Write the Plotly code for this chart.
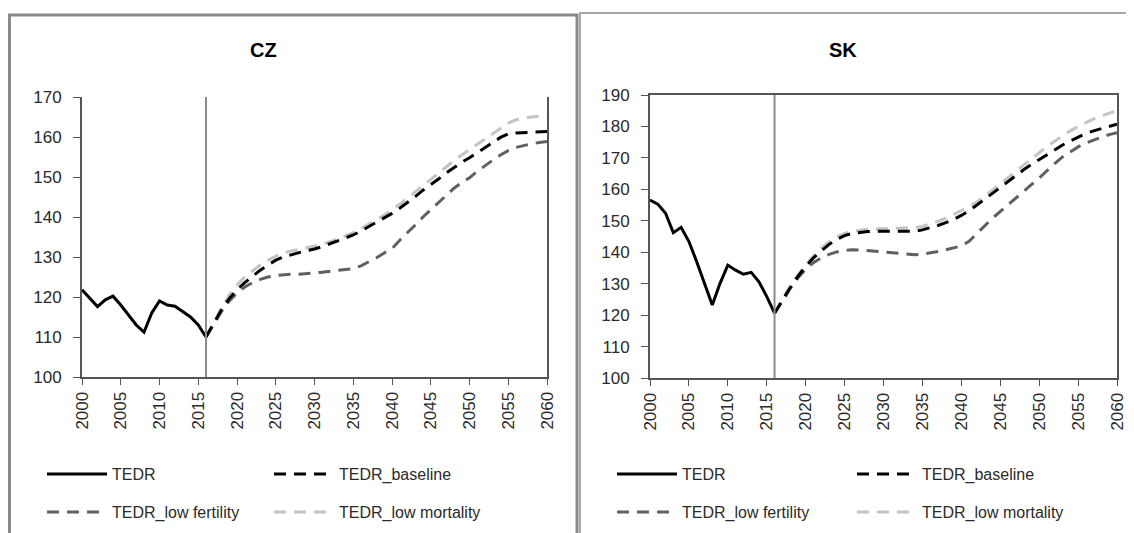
import plotly.graph_objects as go

# ---------------- data ----------------
hist_years = list(range(2000, 2017))
proj_years = list(range(2016, 2061))

cz_tedr = [121.8, 119.8, 117.6, 119.3, 120.2, 118.0, 115.5, 113.0, 111.2, 116.0,
           119.0, 118.0, 117.7, 116.3, 115.0, 113.0, 110.0]
cz_baseline = [110.0, 113.5, 116.8, 119.6, 121.8, 123.6, 125.2, 126.7, 128.0, 129.2,
               130.0, 130.6, 131.1, 131.6, 132.0, 132.6, 133.3, 134.0, 134.8, 135.5,
               136.5, 137.6, 138.6, 139.7, 140.9, 142.2, 143.6, 145.1, 146.7, 148.0,
               149.5, 151.0, 152.4, 153.7, 154.8, 156.0, 157.3, 158.6, 159.9, 160.8,
               161.0, 161.1, 161.2, 161.3, 161.4]
cz_low_fertility = [110.0, 113.3, 116.4, 119.0, 121.0, 122.5, 123.6, 124.4, 125.0, 125.4,
                    125.6, 125.7, 125.7, 125.8, 126.0, 126.2, 126.4, 126.6, 126.8, 127.1,
                    127.8, 128.7, 129.8, 131.0, 132.1, 134.2, 136.0, 138.0, 140.0, 141.8,
                    143.7, 145.5, 147.2, 148.6, 149.8, 151.4, 152.9, 154.2, 155.5, 156.6,
                    157.4, 157.9, 158.3, 158.6, 158.9]
cz_low_mortality = [110.0, 113.8, 117.3, 120.5, 123.0, 125.0, 126.6, 128.0, 129.2, 130.2,
                    130.9, 131.5, 131.9, 132.3, 132.7, 133.2, 133.8, 134.5, 135.3, 136.1,
                    137.1, 138.2, 139.3, 140.5, 141.8, 143.2, 144.7, 146.3, 147.9, 149.4,
                    151.0, 152.6, 154.1, 155.5, 156.9, 158.2, 159.5, 160.8, 162.2, 163.5,
                    164.3, 164.7, 165.0, 165.2, 165.4]

sk_tedr = [156.6, 155.3, 152.4, 146.2, 147.9, 143.4, 137.0, 130.1, 123.2, 130.1,
           135.9, 134.3, 133.0, 133.6, 130.6, 125.9, 120.6]
sk_baseline = [120.6, 124.8, 128.7, 132.3, 135.5, 138.2, 140.5, 142.5, 144.1, 145.3,
               146.0, 146.4, 146.6, 146.7, 146.7, 146.7, 146.6, 146.6, 146.7, 147.1,
               147.7, 148.5, 149.4, 150.4, 151.7, 153.2, 155.0, 156.9, 158.8, 160.7,
               162.6, 164.4, 166.2, 167.9, 169.5, 171.1, 172.6, 174.1, 175.4, 176.7,
               177.8, 178.6, 179.3, 180.0, 180.7]
sk_low_fertility = [120.6, 124.6, 128.4, 131.8, 134.6, 136.7, 138.2, 139.3, 140.1, 140.6,
                    140.8, 140.7, 140.5, 140.3, 140.1, 139.9, 139.6, 139.3, 139.2, 139.4,
                    139.7, 140.2, 140.8, 141.3, 142.0, 143.5, 145.8, 148.4, 150.8, 153.0,
                    155.0, 157.1, 159.3, 161.5, 163.6, 166.0, 168.2, 170.3, 172.0, 173.5,
                    174.7, 175.7, 176.6, 177.4, 178.0]
sk_low_mortality = [120.6, 125.0, 129.0, 132.8, 136.0, 138.9, 141.3, 143.3, 144.9, 146.0,
                    146.7, 147.1, 147.3, 147.4, 147.5, 147.5, 147.5, 147.6, 147.8, 148.2,
                    148.9, 149.8, 150.8, 151.9, 153.2, 154.5, 156.0, 157.8, 159.8, 161.8,
                    163.8, 165.8, 167.8, 169.8, 171.7, 173.6, 175.3, 177.0, 178.6, 180.0,
                    181.3, 182.4, 183.4, 184.2, 185.0]

series_names = ["TEDR", "TEDR_baseline", "TEDR_low fertility", "TEDR_low mortality"]
panel_titles = ["CZ", "SK"]
x_ticks = list(range(2000, 2061, 5))
cz_y_ticks = list(range(100, 171, 10))
sk_y_ticks = list(range(100, 191, 10))
forecast_start = 2016

# ---------------- styles ----------------
FONT = "Liberation Sans, Arial, sans-serif"
TXT = "#2a2a2a"
AXIS = "#555555"
styles = [
    dict(color="#000000", width=3, dash="solid"),
    dict(color="#000000", width=3, dash="12px,8px"),
    dict(color="#606060", width=3, dash="12px,8px"),
    dict(color="#c4c4c4", width=3, dash="12px,8px"),
]

# page places the figure 8px from the top-left corner of the window
OFF = 8
W, H = 1134 - OFF, 533 - OFF
def fx(px):
    return (px - OFF) / W
def fy(py):
    return (H - (py - OFF)) / H
def px_x(a, b):
    return [fx(a), fx(b)]
def px_y(top, bottom):
    return [fy(bottom), fy(top)]

fig = go.Figure()

panels = [
    dict(x="x", y="y", hist=cz_tedr, proj=[cz_baseline, cz_low_fertility, cz_low_mortality],
         legends=("legend", "legend2")),
    dict(x="x2", y="y2", hist=sk_tedr, proj=[sk_baseline, sk_low_fertility, sk_low_mortality],
         legends=("legend3", "legend4")),
]

for p in panels:
    l1, l2 = p["legends"]
    order = [(3, p["proj"][2]), (2, p["proj"][1]), (1, p["proj"][0])]
    fig.add_trace(go.Scatter(x=hist_years, y=p["hist"], mode="lines", name=series_names[0],
                             line=styles[0], xaxis=p["x"], yaxis=p["y"], legend=l1,
                             legendrank=1))
    for idx, vals in order:
        fig.add_trace(go.Scatter(x=proj_years, y=vals, mode="lines", name=series_names[idx],
                                 line=styles[idx], xaxis=p["x"], yaxis=p["y"],
                                 legend=l1 if idx == 1 else l2, legendrank=idx + 1))

common_x = dict(range=[2000, 2060], tickvals=x_ticks, tickangle=-90, ticks="outside",
                ticklen=6, tickcolor=AXIS, showline=True, linecolor=AXIS, linewidth=2,
                showgrid=False, zeroline=False, automargin=False,
                tickfont=dict(family=FONT, size=17, color=TXT))
common_y = dict(ticks="outside", ticklen=7, tickcolor=AXIS, showline=True, linecolor=AXIS,
                linewidth=2, showgrid=False, zeroline=False, ticklabelstandoff=8,
                automargin=False, tickfont=dict(family=FONT, size=17, color=TXT))

fig.update_layout(
    width=W, height=H, margin=dict(l=0, r=0, t=0, b=0, autoexpand=False),
    paper_bgcolor="white", plot_bgcolor="white",
    xaxis=dict(domain=px_x(82, 547), anchor="y", **common_x),
    yaxis=dict(domain=px_y(97, 377), anchor="x", range=[100, 170], tickvals=cz_y_ticks,
               mirror=True, **common_y),
    xaxis2=dict(domain=px_x(650, 1117), anchor="y2", mirror=True, **common_x),
    yaxis2=dict(domain=px_y(95, 378), anchor="x2", range=[100, 190], tickvals=sk_y_ticks,
                mirror=True, **common_y),
    showlegend=True,
)

leg_common = dict(orientation="h", xref="paper", yref="paper", xanchor="left",
                  yanchor="middle", bgcolor="rgba(0,0,0,0)", itemwidth=60,
                  font=dict(family=FONT, size=16, color=TXT), traceorder="normal")
fig.update_layout(
    legend=dict(x=fx(42), y=fy(474), entrywidth=152, **leg_common),
    legend2=dict(x=fx(42), y=fy(512), entrywidth=152, **leg_common),
    legend3=dict(x=fx(612), y=fy(474), entrywidth=165, **leg_common),
    legend4=dict(x=fx(612), y=fy(512), entrywidth=165, **leg_common),
)

# vertical marker at the start of the projections
for xa, ya in (("x", "y"), ("x2", "y2")):
    fig.add_shape(type="line", xref=xa, yref=f"{ya} domain", x0=forecast_start,
                  x1=forecast_start, y0=0, y1=1, line=dict(color="#8c8c8c", width=2))

# panel titles
for title, cx in zip(panel_titles, (263, 843)):
    fig.add_annotation(text=f"<b>{title}</b>", x=fx(cx), y=fy(50), xref="paper",
                       yref="paper", showarrow=False, xanchor="center", yanchor="middle",
                       font=dict(family=FONT, size=20, color="#000000"))

# panel frames
fig.add_shape(type="rect", xref="paper", yref="paper", x0=fx(9.5), x1=fx(577),
              y0=-0.05, y1=fy(15), line=dict(color="#8a8a8a", width=3))
fig.add_shape(type="rect", xref="paper", yref="paper", x0=fx(580), x1=1.05,
              y0=-0.05, y1=fy(13), line=dict(color="#a8a8a8", width=2))

fig.write_html("out.html")
